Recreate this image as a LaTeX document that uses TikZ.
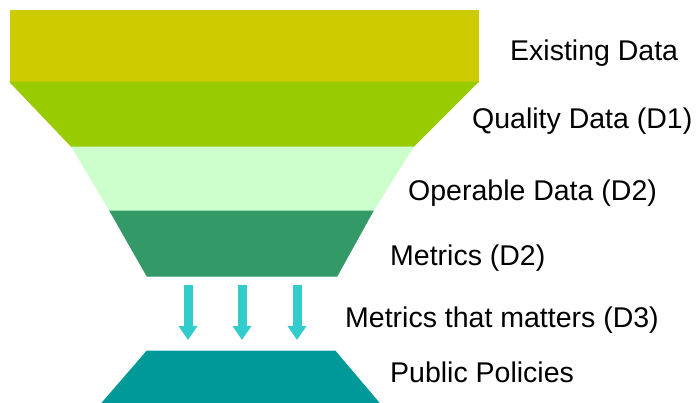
\documentclass[tikz,border=0pt]{standalone}
\usepackage{fontspec}
\setmainfont{Liberation Sans}
\usetikzlibrary{arrows.meta,positioning}
\definecolor{existcol}{HTML}{CCCC00}
\definecolor{qualcol}{HTML}{99CC00}
\definecolor{opercol}{HTML}{CCFFCC}
\definecolor{metrcol}{HTML}{339966}
\definecolor{policol}{HTML}{009999}
\definecolor{flowcol}{HTML}{33CCCC}
\tikzset{
	band/.style={draw=white, line width=1pt},
	bandlabel/.style={anchor=base west, inner sep=0, font=\fontsize{28.5}{34}\selectfont},
	flow/.style={-{Triangle[width=18pt,length=14pt]}, color=flowcol, line width=9pt}
}
\begin{document}
\begin{tikzpicture}[x=1pt,y=-1pt]
	\useasboundingbox (0,0) rectangle (699,402);
	%%%funnel
	\fill[band,existcol] (10,10) rectangle (478,82);
	\fill[band,qualcol] (10,82) -- (478,82) -- (413,147) -- (72,147) -- cycle;
	\fill[band,opercol] (72,147) -- (413,147) -- (373,211) -- (110,211) -- cycle;
	\fill[band,metrcol] (110,211) -- (373,211) -- (337,276) -- (147,276) -- cycle;
	\fill[band,policol] (147,351) -- (335,351) -- (385,410) -- (96,410) -- cycle;
	
	%%%labels
	\node[bandlabel] (exist) at (510,60) {Existing Data};
	\node[bandlabel] (qual) at (472,128) {Quality Data (D1)};
	\node[bandlabel] (oper) at (408,200) {Operable Data (D2)};
	\node[bandlabel] (metr) at (390,265) {Metrics (D2)};
	\node[bandlabel] (matt) at (345,327) {Metrics that matters (D3)};
	\node[bandlabel] (poli) at (390,382) {Public Policies};
	
	%%%arrows
	\foreach \i/\x in {1/188,2/242,3/297}{
		\coordinate (s\i) at (\x,285);
		\coordinate (t\i) at (\x,340);
		\draw[flow] (s\i) -- (t\i);
	}
\end{tikzpicture}
\end{document}
